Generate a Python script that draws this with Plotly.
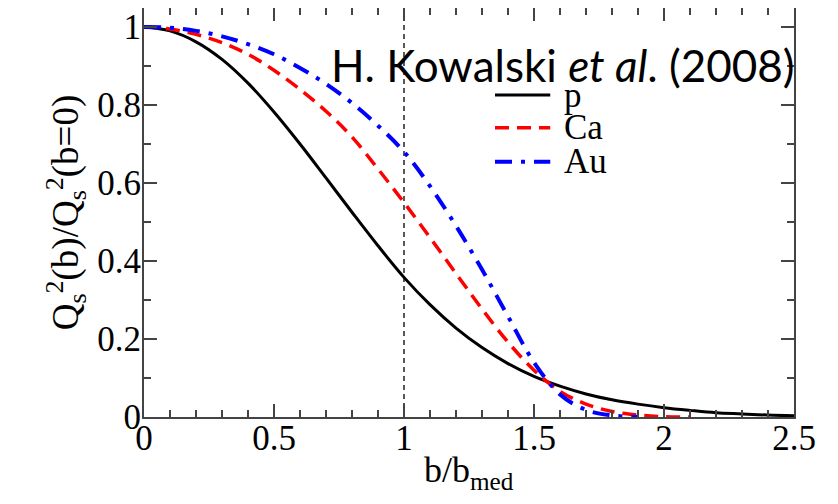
import plotly.graph_objects as go

# ---- data ----
b_p = [0, 0.1, 0.2, 0.3, 0.4, 0.5, 0.6, 0.7, 0.8, 0.9, 1.0, 1.1, 1.2, 1.3,
       1.4, 1.5, 1.6, 1.7, 1.8, 1.9, 2.0, 2.1, 2.2, 2.3, 2.4, 2.5]
q_p = [1.0, 0.990, 0.962, 0.917, 0.856, 0.782, 0.700, 0.613, 0.525, 0.439,
       0.358, 0.288, 0.228, 0.178, 0.137, 0.104, 0.079, 0.059, 0.044, 0.033,
       0.024, 0.017, 0.011, 0.008, 0.005, 0.003]

b_ca = [0, 0.1, 0.2, 0.3, 0.4, 0.5, 0.6, 0.7, 0.8, 0.9, 1.0, 1.1, 1.2, 1.3,
        1.4, 1.5, 1.6, 1.7, 1.8, 1.9, 2.0, 2.1]
q_ca = [1.0, 0.995, 0.981, 0.960, 0.930, 0.889, 0.840, 0.784, 0.718, 0.636,
        0.550, 0.460, 0.368, 0.277, 0.192, 0.120, 0.066, 0.033, 0.014, 0.005,
        0.001, 0.0]

b_au = [0, 0.1, 0.2, 0.3, 0.4, 0.5, 0.6, 0.7, 0.8, 0.9, 1.0, 1.1, 1.2, 1.3,
        1.4, 1.5, 1.6, 1.7, 1.8, 1.9]
q_au = [1.0, 0.998, 0.990, 0.976, 0.956, 0.930, 0.895, 0.854, 0.805, 0.747,
        0.680, 0.592, 0.490, 0.378, 0.258, 0.140, 0.058, 0.018, 0.004, 0.0]

series_names = ["p", "Ca", "Au"]
series_colors = ["#000000", "#ff0000", "#0000ff"]
median_b = 1.0

x_ticks = [0, 0.5, 1, 1.5, 2, 2.5]
x_tick_text = ["0", "0.5", "1", "1.5", "2", "2.5"]
y_ticks = [0, 0.2, 0.4, 0.6, 0.8, 1.0]
y_tick_text = ["0", "0.2", "0.4", "0.6", "0.8", "1"]

SERIF = "Liberation Serif, Times New Roman, serif"
AXC = "#444444"

fig = go.Figure()

# median reference line
fig.add_trace(go.Scatter(x=[median_b, median_b], y=[0, 1.06], mode="lines",
                         line=dict(color="black", width=1.3, dash="5px,4px"),
                         showlegend=False, hoverinfo="skip"))

dashes = ["solid", "14px,8px", "17px,9px,4px,9px"]
widths = [3, 3.5, 4]
for xs, ys, name, col, dsh, w in zip([b_p, b_ca, b_au], [q_p, q_ca, q_au],
                                     series_names, series_colors, dashes, widths):
    fig.add_trace(go.Scatter(x=xs, y=ys, mode="lines", name=name,
                             line=dict(color=col, width=w, dash=dsh,
                                       shape="spline", smoothing=1.0),
                             showlegend=False))

# manual legend (samples + labels)
leg_x0, leg_x1, leg_tx = 0.540, 0.625, 0.643
leg_y = [0.787, 0.707, 0.624]
for name, col, dsh, w, yy in zip(series_names, series_colors, dashes, widths, leg_y):
    fig.add_shape(type="line", xref="paper", yref="paper", x0=leg_x0, x1=leg_x1,
                  y0=yy, y1=yy, line=dict(color=col, width=w, dash=dsh))
    fig.add_annotation(xref="paper", yref="paper", x=leg_tx, y=yy, text=name,
                       showarrow=False, xanchor="left", yanchor="middle",
                       font=dict(family=SERIF, size=35, color="black"))

fig.add_annotation(xref="paper", yref="paper", x=0.285, y=0.861,
                   text="H. Kowalski <i>et al</i>. (2008)", showarrow=False,
                   xanchor="left", yanchor="middle",
                   font=dict(family="Lato, Open Sans, sans-serif", size=44, color="black"))

# x-axis title (placed as annotation for exact vertical position)
fig.add_annotation(xref="paper", yref="paper", x=0.5, y=-0.075,
                   text="b/b<sub>med</sub>", showarrow=False,
                   xanchor="center", yanchor="top",
                   font=dict(family=SERIF, size=36, color="black"))

axis_common = dict(showgrid=False, zeroline=False, showline=True, linecolor=AXC,
                   linewidth=2, mirror="allticks", ticks="inside", ticklen=13,
                   tickwidth=1.5, tickcolor=AXC, automargin=False,
                   tickfont=dict(family=SERIF, size=35, color="black"))

fig.update_xaxes(range=[0, 2.5], tickvals=x_ticks, ticktext=x_tick_text,
                 ticklabelstandoff=-11,
                 minor=dict(dtick=0.1, ticks="inside", ticklen=7, tickwidth=1.5,
                            tickcolor=AXC),
                 **axis_common)
fig.update_yaxes(range=[0, 1.0487], tickvals=y_ticks, ticktext=y_tick_text,
                 ticklabelstandoff=-6,
                 minor=dict(dtick=0.1, ticks="inside", ticklen=7, tickwidth=1.5,
                            tickcolor=AXC),
                 title=dict(text="Q<sub>s</sub><sup>2</sup>(b)/Q<sub>s</sub><sup>2</sup>(b=0)",
                            standoff=7,
                            font=dict(family=SERIF, size=37, color="black")),
                 **axis_common)

fig.update_layout(width=830, height=496, margin=dict(l=136, r=44, t=0, b=87),
                  font=dict(family=SERIF, size=34, color="black"),
                  paper_bgcolor="white", plot_bgcolor="white", showlegend=False)

fig.write_html("out.html")
